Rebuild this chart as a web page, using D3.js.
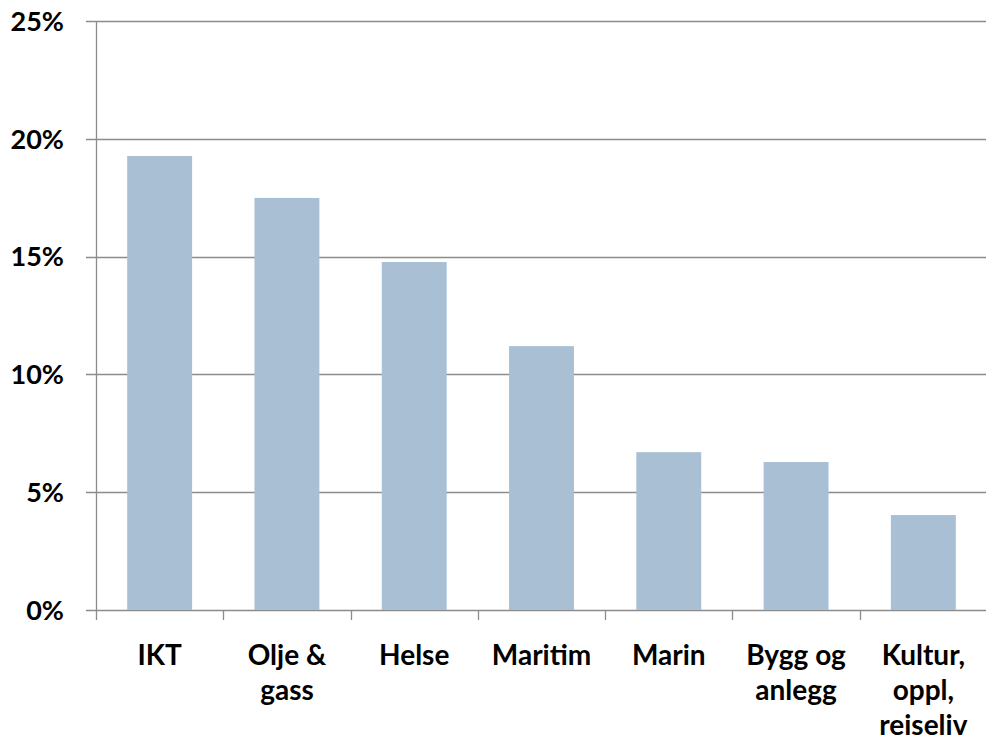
<!DOCTYPE html>
<html>
<head>
<meta charset="utf-8">
<script src="https://cdn.jsdelivr.net/npm/d3@7"></script>
<style>
  body { margin: 0; background: #fff; }
  text { font-family: Lato, "Open Sans", sans-serif; font-weight: bold; fill: #000; }
</style>
</head>
<body>
<svg id="chart" width="986" height="741"></svg>
<script>
let categories = [['IKT'], ['Olje &', 'gass'], ['Helse'], ['Maritim'], ['Marin'], ['Bygg og', 'anlegg'], ['Kultur,', 'oppl,', 'reiseliv']]
let values = [19.27, 17.49, 14.77, 11.2, 6.7, 6.28, 4.03]
let yTicks = [0, 5, 10, 15, 20, 25]

let svg = d3.select('#chart')
let plotLeft = 96, plotRight = 987, plotTop = 21, plotBottom = 610

let x = d3.scaleBand()
    .domain(d3.range(categories.length))
    .range([plotLeft, plotRight])
    .paddingInner(0.49)
    .paddingOuter(0.245)

let y = d3.scaleLinear().domain([0, 25]).range([plotBottom, plotTop])

// gridlines + left ticks
svg.append('g')
    .selectAll('line')
    .data(yTicks)
    .enter()
    .append('line')
    .attr('x1', plotLeft - 10)
    .attr('x2', 986)
    .attr('y1', d => Math.round(y(d)) + 0.5)
    .attr('y2', d => Math.round(y(d)) + 0.5)
    .attr('stroke', '#8c8c8c')
    .attr('stroke-width', 1.3)

svg.append('g')
    .selectAll('text')
    .data(yTicks)
    .enter()
    .append('text')
    .attr('x', 64)
    .attr('y', d => y(d))
    .attr('dy', '0.36em')
    .attr('text-anchor', 'end')
    .style('font-size', '27px')
    .text(d => d + '%')

// bars
svg.append('g')
    .selectAll('rect')
    .data(values)
    .enter()
    .append('rect')
    .attr('x', (d, i) => x(i))
    .attr('width', x.bandwidth())
    .attr('y', d => y(d))
    .attr('height', d => plotBottom - y(d))
    .attr('fill', '#a9bfd4')

// y axis line
svg.append('line')
    .attr('x1', plotLeft + 0.5).attr('x2', plotLeft + 0.5)
    .attr('y1', plotTop).attr('y2', plotBottom + 10)
    .attr('stroke', '#8c8c8c')
    .attr('stroke-width', 1.3)

// category boundary ticks
let step = x.step()
svg.append('g')
    .selectAll('line')
    .data(d3.range(1, categories.length))
    .enter()
    .append('line')
    .attr('x1', i => Math.round(plotLeft + i * step) + 0.5)
    .attr('x2', i => Math.round(plotLeft + i * step) + 0.5)
    .attr('y1', plotBottom)
    .attr('y2', plotBottom + 10)
    .attr('stroke', '#8c8c8c')
    .attr('stroke-width', 1.3)

// category labels
let labels = svg.append('g')
    .selectAll('text')
    .data(categories)
    .enter()
    .append('text')
    .attr('text-anchor', 'middle')
    .style('font-size', '28px')
    .attr('transform', (d, i) => 'translate(' + (x(i) + x.bandwidth() / 2) + ',665)')

labels.selectAll('tspan')
    .data(d => d)
    .enter()
    .append('tspan')
    .attr('x', 0)
    .attr('y', (d, j) => j * 35)
    .text(d => d)
</script>
</body>
</html>
